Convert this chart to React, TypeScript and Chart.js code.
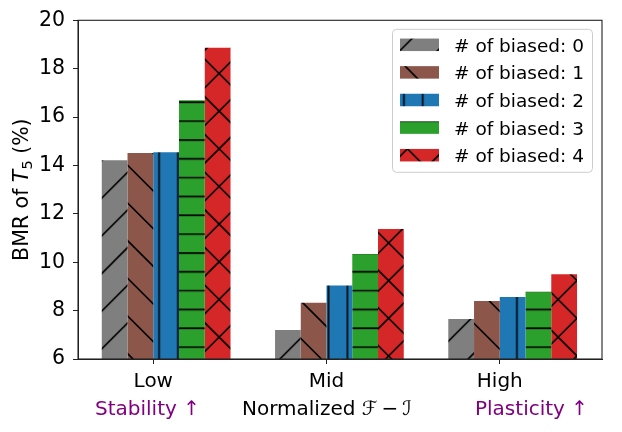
import React, { useEffect, useRef } from 'react';
import { Chart, registerables } from 'chart.js';

Chart.register(...registerables);

// data
const groups = ['Low', 'Mid', 'High'];
const groupNotes = ['Stability ↑', 'Normalized ℱ\u2009−\u2009ℐ', 'Plasticity ↑'];
const seriesLabels = [
  '# of biased: 0',
  '# of biased: 1',
  '# of biased: 2',
  '# of biased: 3',
  '# of biased: 4',
];
const biased0 = [14.22, 7.2, 7.65];
const biased1 = [14.52, 8.33, 8.4];
const biased2 = [14.55, 9.04, 8.56];
const biased3 = [16.7, 10.34, 8.78];
const biased4 = [18.87, 11.37, 9.5];
const yTicks = [6, 8, 10, 12, 14, 16, 18, 20];

const FONT = '"DejaVu Sans", sans-serif';
const colors = ['#7f7f7f', '#8c564b', '#1f77b4', '#2ca02c', '#d62728'];
const hatches = ['/', '\\', '|', '-', 'x'];
// pattern phase so hatch lines fall where they do in the reference
const hatchOffsets = [
  [0, 36.2],
  [0, 0],
  [8.4, 0],
  [0, 8.15],
  [11.9, 16.9],
];

const GROUP_FRACTION = 0.743;
const TILE = 113;

function makeHatch(color: string, kind: string, ox: number, oy: number): CanvasPattern | string {
  const tile = document.createElement('canvas');
  tile.width = TILE;
  tile.height = TILE;
  const c = tile.getContext('2d');
  if (!c) return color;
  c.fillStyle = color;
  c.fillRect(0, 0, TILE, TILE);
  c.strokeStyle = '#000';
  c.lineWidth = 1.6;
  c.beginPath();
  const d = TILE / 3;
  const o = TILE / 6;
  if (kind === '/' || kind === 'x') {
    for (let k = 0; k <= 6; k++) {
      const s = k * d;
      c.moveTo(s + 2, -2);
      c.lineTo(s - TILE - 2, TILE + 2);
    }
  }
  if (kind === '\\' || kind === 'x') {
    for (let k = -3; k <= 3; k++) {
      const s = k * d;
      c.moveTo(-2, s - 2);
      c.lineTo(TILE + 2, s + TILE + 2);
    }
  }
  if (kind === '|') {
    for (let k = 0; k <= 6; k++) {
      c.moveTo(k * o, 0);
      c.lineTo(k * o, TILE);
    }
  }
  if (kind === '-') {
    for (let k = 0; k <= 6; k++) {
      c.moveTo(0, k * o);
      c.lineTo(TILE, k * o);
    }
  }
  c.stroke();
  const main = document.createElement('canvas').getContext('2d');
  const pattern = main ? main.createPattern(tile, 'repeat') : null;
  if (!pattern) return color;
  pattern.setTransform(new DOMMatrix([1, 0, 0, 1, ox, oy]));
  return pattern;
}

const framePlugin = {
  id: 'frame',
  afterDraw(chart: Chart) {
    const { ctx, chartArea } = chart;
    ctx.save();
    ctx.strokeStyle = '#222';
    ctx.lineWidth = 1.1;
    ctx.strokeRect(
      chartArea.left,
      chartArea.top,
      chartArea.right - chartArea.left,
      chartArea.bottom - chartArea.top
    );
    ctx.restore();
  },
};

const labelsPlugin = {
  id: 'labels',
  afterDraw(chart: Chart) {
    const { ctx, chartArea } = chart;
    ctx.save();

    // y axis title: BMR of T_5 (%)
    const cy = (chartArea.top + chartArea.bottom) / 2;
    ctx.translate(28, cy);
    ctx.rotate(-Math.PI / 2);
    const parts = [
      { t: 'BMR of ', f: `20.5px ${FONT}`, dy: 0 },
      { t: 'T', f: `italic 20.5px ${FONT}`, dy: 0 },
      { t: '5', f: `14.5px ${FONT}`, dy: 4 },
      { t: ' (%)', f: `20.5px ${FONT}`, dy: 0 },
    ];
    let total = 0;
    parts.forEach((p) => {
      ctx.font = p.f;
      total += ctx.measureText(p.t).width;
    });
    let x = -total / 2;
    ctx.fillStyle = '#000';
    ctx.textBaseline = 'alphabetic';
    parts.forEach((p) => {
      ctx.font = p.f;
      ctx.fillText(p.t, x, p.dy);
      x += ctx.measureText(p.t).width;
    });
    ctx.restore();

    // notes under the group labels
    ctx.save();
    ctx.font = `20px ${FONT}`;
    ctx.textBaseline = 'alphabetic';
    const noteX = [chartArea.left + 17, chartArea.left + 164, chartArea.left + 397];
    const noteColors = ['#800080', '#000', '#800080'];
    groupNotes.forEach((t, i) => {
      ctx.fillStyle = noteColors[i];
      ctx.fillText(t, noteX[i], chartArea.bottom + 56);
    });
    ctx.restore();

    // legend
    ctx.save();
    const lx = chartArea.right - 209.5;
    const ly = chartArea.top + 9;
    const lw = 200;
    const lh = 143;
    ctx.beginPath();
    ctx.roundRect(lx, ly, lw, lh, 4);
    ctx.fillStyle = 'rgba(255,255,255,0.8)';
    ctx.fill();
    ctx.strokeStyle = '#cccccc';
    ctx.lineWidth = 1;
    ctx.stroke();
    ctx.font = `18.5px ${FONT}`;
    ctx.textBaseline = 'alphabetic';
    chart.data.datasets.forEach((ds, i) => {
      const rowY = ly + 15.5 + i * 27.6;
      ctx.fillStyle = ds.backgroundColor as CanvasPattern | string;
      ctx.fillRect(lx + 7.5, rowY - 6.25, 39, 12.5);
      ctx.fillStyle = '#000';
      ctx.fillText(ds.label || '', lx + 61.5, rowY + 7);
    });
    ctx.restore();
  },
};

const HatchedBarChart: React.FC = () => {
  const chartRef = useRef<HTMLCanvasElement>(null);

  useEffect(() => {
    const ctx = chartRef.current?.getContext('2d');
    if (!ctx) return;

    const series = [biased0, biased1, biased2, biased3, biased4];
    // ticks sit at the left edge of the middle bar, as in the reference
    const shift = GROUP_FRACTION / series.length / 2;

    const chart = new Chart(ctx, {
      type: 'bar',
      data: {
        datasets: series.map((values, i) => ({
          label: seriesLabels[i],
          data: values.map((v, g) => ({ x: g + shift, y: v })),
          backgroundColor: makeHatch(colors[i], hatches[i], hatchOffsets[i][0], hatchOffsets[i][1]),
          borderWidth: 0,
          categoryPercentage: GROUP_FRACTION,
          barPercentage: 1,
        })),
      },
      options: {
        responsive: false,
        animation: false,
        layout: { padding: { top: 20, right: 20, left: 0, bottom: 0 } },
        plugins: {
          legend: { display: false },
          tooltip: { enabled: false },
        },
        scales: {
          x: {
            type: 'linear',
            offset: false,
            min: -0.4345,
            max: 2.59,
            afterBuildTicks: (scale: any) => {
              scale.ticks = groups.map((_, i) => ({ value: i }));
            },
            afterFit: (scale: any) => {
              scale.height = 73;
            },
            ticks: {
              callback: (value: any) => groups[Math.round(Number(value))] ?? '',
              font: { family: FONT, size: 20 },
              color: '#000',
              padding: 6,
              maxRotation: 0,
              autoSkip: false,
            },
            grid: {
              offset: false,
              drawOnChartArea: false,
              drawTicks: true,
              tickLength: 5,
              tickColor: '#222',
            },
            border: { display: true, color: '#222', width: 1 },
          },
          y: {
            min: yTicks[0],
            max: yTicks[yTicks.length - 1],
            afterBuildTicks: (scale: any) => {
              scale.ticks = yTicks.map((v) => ({ value: v }));
            },
            afterFit: (scale: any) => {
              scale.width = 78;
            },
            ticks: {
              font: { family: FONT, size: 20.5 },
              color: '#000',
              padding: 8,
            },
            grid: {
              drawOnChartArea: false,
              drawTicks: true,
              tickLength: 5,
              tickColor: '#222',
            },
            border: { display: true, color: '#222', width: 1 },
          },
        },
      },
      plugins: [framePlugin, labelsPlugin],
    });

    return () => {
      chart.destroy();
    };
  }, []);

  return (
    <div style={{ position: 'fixed', left: 0, top: 0, width: 622, height: 432, background: '#fff' }}>
      <canvas ref={chartRef} width={622} height={432} style={{ display: 'block' }} />
    </div>
  );
};

export default function App() {
  return <HatchedBarChart />;
}
